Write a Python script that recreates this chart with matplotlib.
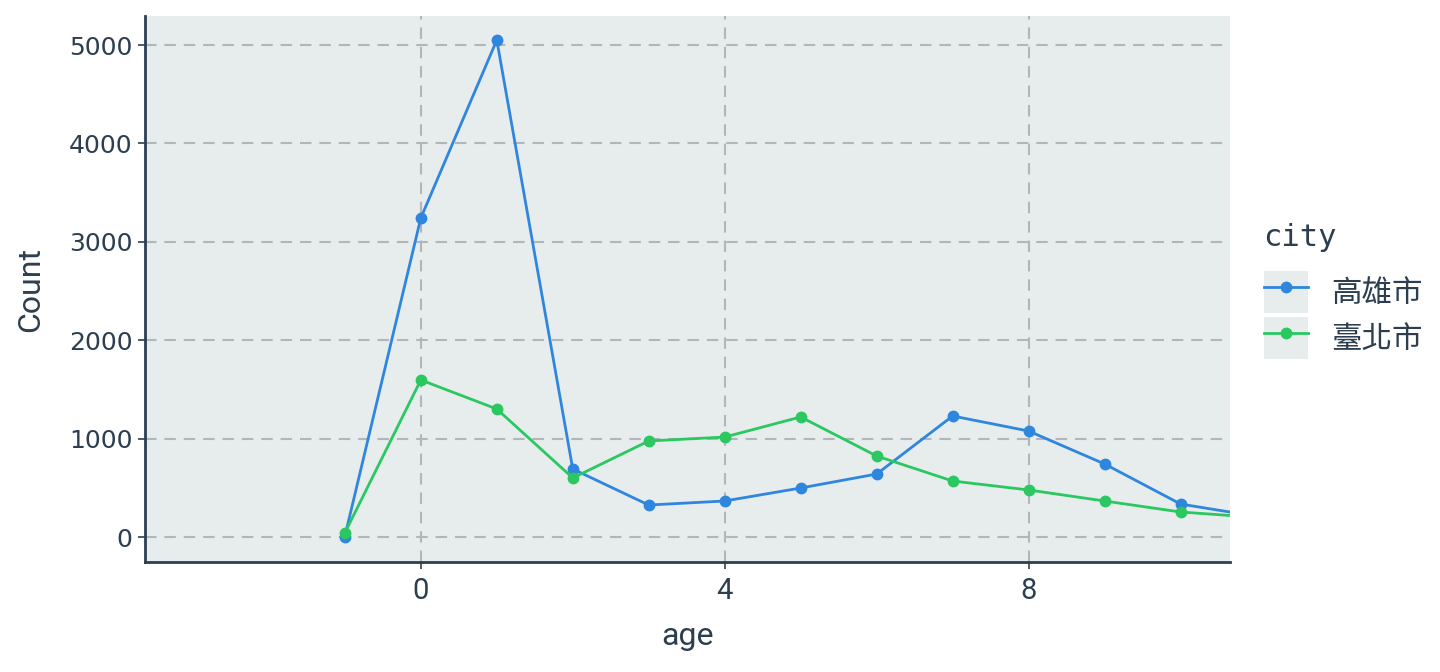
import numpy as np
import matplotlib
matplotlib.use("Agg")
import matplotlib.pyplot as plt
from matplotlib.lines import Line2D
from matplotlib.patches import Rectangle
from matplotlib.legend_handler import HandlerTuple

# data
ages = [-1, 0, 1, 2, 3, 4, 5, 6, 7, 8, 9, 10, 11]
kaohsiung = [5, 3242, 5050, 691, 325, 366, 498, 640, 1230, 1077, 742, 335, 210]
taipei = [41, 1596, 1301, 600, 976, 1016, 1220, 823, 569, 478, 366, 254, 200]
cities = ['高雄市', '臺北市']
colors = ['#2E86DE', '#2BC760']
x_ticks = [0, 4, 8]
y_ticks = [0, 1000, 2000, 3000, 4000, 5000]

TEXT = '#2C3E50'
PANEL = '#E7EDED'
GRID = '#B2B5B9'
CJK = ['Noto Sans CJK TC', 'DejaVu Sans']
NARROW = 'Roboto'

fig = plt.figure(figsize=(14.4, 6.72), dpi=100)
ax = fig.add_axes([145 / 1440, 1 - 562 / 672, (1230 - 145) / 1440, (562 - 16) / 672])
ax.set_facecolor(PANEL)

for series, col, name in zip([kaohsiung, taipei], colors, cities):
    ax.plot(ages, series, '-o', color=col, lw=2, markersize=7.5, label=name, zorder=3)

ax.set_xlim(-3.63, 10.65)
ax.set_ylim(-254, 5295)
ax.set_xticks(x_ticks)
ax.set_yticks(y_ticks)
ax.grid(True, color=GRID, lw=1.5, linestyle=(0, (5.5, 3.8)), zorder=1)
ax.set_axisbelow(True)

for s in ['top', 'right']:
    ax.spines[s].set_visible(False)
for s in ['left', 'bottom']:
    ax.spines[s].set_color(TEXT)
    ax.spines[s].set_linewidth(2)

ax.tick_params(axis='y', length=5, width=1.2, color=TEXT, labelcolor=TEXT, labelsize=18, pad=4)
ax.tick_params(axis='x', length=5, width=1.2, color=TEXT, labelcolor=TEXT, labelsize=21, pad=6)
for lab in ax.get_xticklabels():
    lab.set_family(NARROW)

ax.set_xlabel('age', fontsize=23, color=TEXT, family=NARROW, labelpad=12)
ax.set_ylabel('Count', fontsize=23, color=TEXT, family=NARROW, labelpad=17)

# legend keys with panel-coloured background squares
handles = []
for col in colors:
    bg = Rectangle((0, 0), 1, 1, facecolor=PANEL, edgecolor='none')
    ln = Line2D([], [], color=col, lw=2, marker='o', markersize=7.5)
    handles.append((bg, ln))
leg = fig.legend(handles, cities, loc='center left', bbox_to_anchor=(1236 / 1440, 1 - 291 / 672),
                 frameon=False, handler_map={tuple: HandlerTuple(ndivide=1, pad=0)},
                 handlelength=1.45, handleheight=1.75, labelspacing=0.12, handletextpad=0.75,
                 prop={'family': CJK, 'size': 22}, title='city',
                 title_fontproperties={'family': 'DejaVu Sans Mono', 'size': 22})
leg._legend_box.align = 'left'
leg._legend_box.sep = 14
for t in leg.get_texts():
    t.set_color(TEXT)
leg.get_title().set_color(TEXT)

plt.savefig('out.png', dpi=100)
